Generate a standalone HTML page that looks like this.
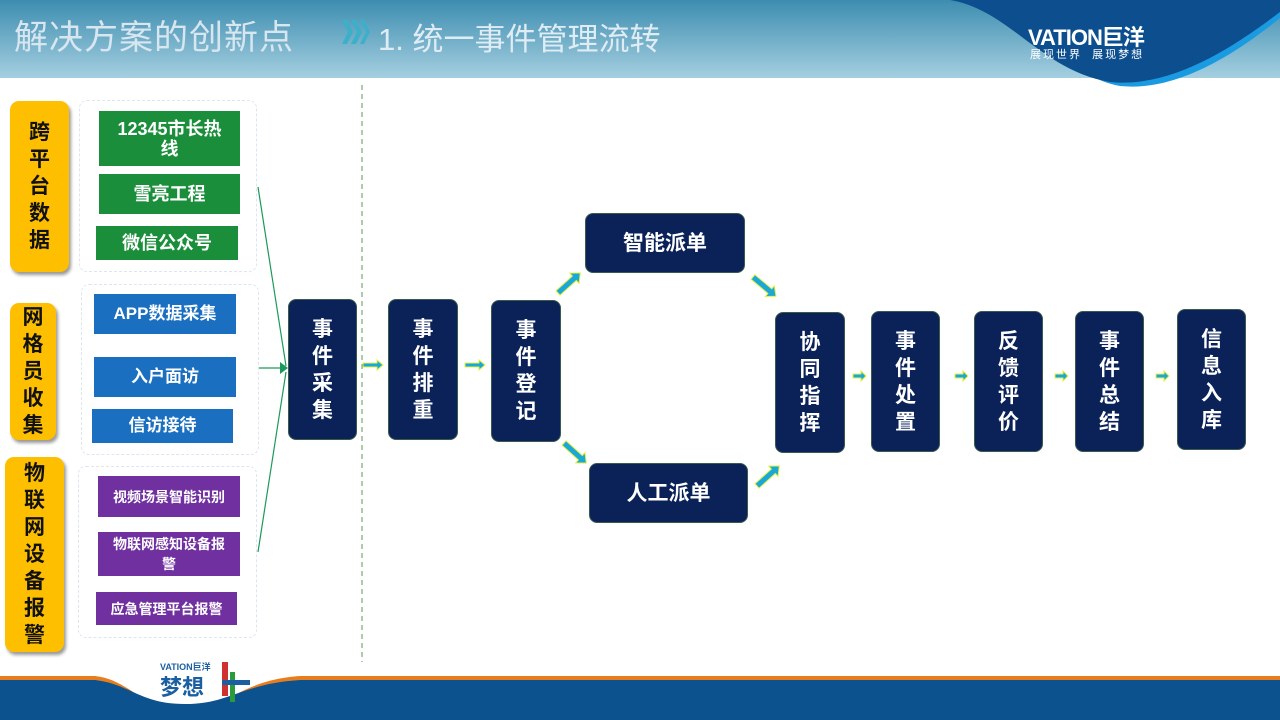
<!DOCTYPE html>
<html><head><meta charset="utf-8"><style>
body{margin:0;width:1280px;height:720px;overflow:hidden;background:#fff;position:relative;font-family:"Liberation Sans","Noto Sans CJK SC",sans-serif}
.a{position:absolute;box-sizing:border-box}
.y{background:#fdbf00;border-radius:9px;box-shadow:2px 3px 3px #999;color:#111;font-weight:bold;font-size:21px;line-height:27px;text-align:center;display:flex;align-items:center;justify-content:center}
.c{border:1px dashed #dde6f0;border-radius:8px}
.g,.b,.p{color:#fff;font-weight:bold;text-align:center;display:flex;align-items:center;justify-content:center;line-height:20px}
.g{background:#1a8e3a;font-size:18px}
.b{background:#1b6fc0;font-size:17px}
.p{background:#7030a0;font-size:14px}
.n{background:#0b2259;border-radius:8px;color:#fff;font-weight:bold;font-size:21px;line-height:27px;text-align:center;display:flex;align-items:center;justify-content:center;border:1px solid #3a5a4a}
</style></head><body>
<svg class="a" style="left:0;top:0" width="1280" height="720">
<defs><linearGradient id="h" x1="0" y1="0" x2="0" y2="1"><stop offset="0" stop-color="#3d8db0"/><stop offset="1" stop-color="#a5cfe0"/></linearGradient></defs>
<rect x="0" y="0" width="1280" height="78" fill="url(#h)"/>
<path d="M1000,0 C1050,20 1060,75 1120,86 C1180,92 1240,50 1280,18 L1280,0 Z" fill="#1a9ae0"/>
<path d="M950,0 C1010,10 1040,70 1110,82 C1170,88 1230,50 1280,12 L1280,0 Z" fill="#0c4e8e"/>
<line x1="362" y1="85" x2="362" y2="662" stroke="#5a9a5a" stroke-dasharray="5,4"/>
<path d="M0,676 L95,676 C130,680 140,708 185,710 C230,708 240,680 300,676 L1280,676 L1280,720 L0,720 Z" fill="#e87d1e"/>
<path d="M0,680 L95,680 C130,684 140,704 185,704 C230,704 240,684 300,680 L1280,680 L1280,720 L0,720 Z" fill="#0b528f"/>
<g stroke="#1a9a5a" stroke-width="1.2" fill="none"><line x1="258" y1="187" x2="286" y2="366"/><line x1="258" y1="368" x2="286" y2="368"/><line x1="258" y1="552" x2="286" y2="372"/></g>
<path d="M280,362 L288,368 L280,374 Z" fill="#1a9a5a"/>
<g fill="#19a8d8" stroke="#e8f040" stroke-width="1">
<path d="M363,363 h14 v-3 l6,5 l-6,5 v-3 h-14 z"/>
<path d="M465,363 h14 v-3 l6,5 l-6,5 v-3 h-14 z"/>
<path d="M853,374 h8 v-3 l5,5 l-5,5 v-3 h-8 z"/>
<path d="M955,374 h8 v-3 l5,5 l-5,5 v-3 h-8 z"/>
<path d="M1055,374 h8 v-3 l5,5 l-5,5 v-3 h-8 z"/>
<path d="M1156,374 h8 v-3 l5,5 l-5,5 v-3 h-8 z"/>
<path d="M0,-3 h22 v-4 l8,7 l-8,7 v-4 h-22 z" transform="translate(558,293) rotate(-42)"/>
<path d="M0,-3 h22 v-4 l8,7 l-8,7 v-4 h-22 z" transform="translate(564,443) rotate(42)"/>
<path d="M0,-3 h22 v-4 l8,7 l-8,7 v-4 h-22 z" transform="translate(753,277) rotate(40)"/>
<path d="M0,-3 h22 v-4 l8,7 l-8,7 v-4 h-22 z" transform="translate(757,486) rotate(-42)"/>
</g>
<rect x="222" y="662" width="6" height="34" fill="#d03030"/><rect x="230" y="672" width="5" height="30" fill="#2a9a3a"/><rect x="222" y="680" width="28" height="5" fill="#1b5fa0"/>
<path d="M342,20 l6,12 l-6,12 h5 l6,-12 l-6,-12 z M351,20 l6,12 l-6,12 h5 l6,-12 l-6,-12 z M360,20 l6,12 l-6,12 h4 l6,-12 l-6,-12 z" fill="#3bb0c8"/>
</svg>
<div class="a" style="left:14px;top:10px;font-size:34px;color:#d8e6f0;letter-spacing:1px">解决方案的创新点</div>
<div class="a" style="left:378px;top:14px;font-size:31px;color:#e0ecf4">1. 统一事件管理流转</div>
<div class="a" style="left:1028px;top:20px;font-size:22px;color:#fff;font-weight:bold;letter-spacing:-1px">VATION巨洋</div>
<div class="a" style="left:1030px;top:46px;font-size:11px;color:#fff;letter-spacing:2px">展现世界&nbsp;&nbsp;展现梦想</div>
<div class="a" style="left:160px;top:660px;font-size:9px;color:#1b5fa0;font-weight:bold">VATION巨洋</div>
<div class="a" style="left:160px;top:670px;font-size:22px;color:#1b5fa0;font-weight:bold">梦想</div>

<div class="a y" style="left:10px;top:101px;width:59px;height:171px">跨<br>平<br>台<br>数<br>据</div>
<div class="a y" style="left:10px;top:303px;width:46px;height:137px">网<br>格<br>员<br>收<br>集</div>
<div class="a y" style="left:5px;top:457px;width:59px;height:195px">物<br>联<br>网<br>设<br>备<br>报<br>警</div>
<div class="a c" style="left:79px;top:100px;width:178px;height:172px"></div>
<div class="a c" style="left:81px;top:284px;width:178px;height:171px"></div>
<div class="a c" style="left:78px;top:466px;width:179px;height:172px"></div>
<div class="a g" style="left:99px;top:111px;width:141px;height:55px">12345市长热<br>线</div>
<div class="a g" style="left:99px;top:174px;width:141px;height:40px">雪亮工程</div>
<div class="a g" style="left:96px;top:226px;width:142px;height:34px">微信公众号</div>
<div class="a b" style="left:94px;top:294px;width:142px;height:40px">APP数据采集</div>
<div class="a b" style="left:94px;top:357px;width:142px;height:40px">入户面访</div>
<div class="a b" style="left:92px;top:409px;width:141px;height:34px">信访接待</div>
<div class="a p" style="left:98px;top:476px;width:142px;height:41px">视频场景智能识别</div>
<div class="a p" style="left:98px;top:532px;width:142px;height:44px">物联网感知设备报<br>警</div>
<div class="a p" style="left:96px;top:592px;width:141px;height:33px">应急管理平台报警</div>

<div class="a n" style="left:288px;top:299px;width:69px;height:141px">事<br>件<br>采<br>集</div>
<div class="a n" style="left:388px;top:299px;width:70px;height:141px">事<br>件<br>排<br>重</div>
<div class="a n" style="left:491px;top:300px;width:70px;height:142px">事<br>件<br>登<br>记</div>
<div class="a n" style="left:585px;top:213px;width:160px;height:60px">智能派单</div>
<div class="a n" style="left:589px;top:463px;width:159px;height:60px">人工派单</div>
<div class="a n" style="left:775px;top:312px;width:70px;height:141px">协<br>同<br>指<br>挥</div>
<div class="a n" style="left:871px;top:311px;width:69px;height:141px">事<br>件<br>处<br>置</div>
<div class="a n" style="left:974px;top:311px;width:69px;height:141px">反<br>馈<br>评<br>价</div>
<div class="a n" style="left:1075px;top:311px;width:69px;height:141px">事<br>件<br>总<br>结</div>
<div class="a n" style="left:1177px;top:309px;width:69px;height:141px">信<br>息<br>入<br>库</div>
</body></html>
